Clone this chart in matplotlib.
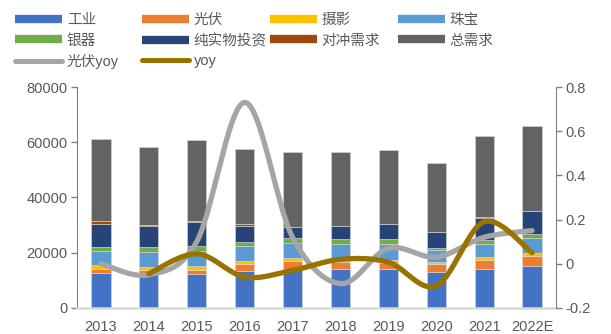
import matplotlib
matplotlib.use("Agg")
import matplotlib.pyplot as plt
from matplotlib.lines import Line2D
import numpy as np

plt.rcParams['font.family'] = ['Liberation Sans', 'Noto Sans CJK SC', 'DejaVu Sans']

years = ['2013', '2014', '2015', '2016', '2017', '2018', '2019', '2020', '2021', '2022E']

# silver demand by use (tonnes)
industrial = [12730, 12500, 12360, 13350, 13700, 14260, 14010, 13030, 14260, 15200]
pv = [1330, 1100, 1340, 2700, 3200, 2390, 2420, 2790, 3260, 3620]
photography = [1330, 1300, 1450, 1100, 1200, 450, 1090, 830, 940, 1090]
jewelry = [5340, 5460, 5580, 5350, 5480, 5960, 5790, 4490, 4850, 5570]
silverware = [1210, 1580, 1690, 1450, 1580, 2060, 1810, 730, 1200, 1450]
bar_coin = [8480, 7880, 8730, 5850, 4220, 4560, 5180, 5640, 8070, 8070]
hedging = [970, 100, 200, 450, 100, 150, 150, 0, 360, 150]
total = [29680, 28360, 29470, 27440, 26990, 26770, 26630, 24980, 29320, 30630]

# growth rates (right axis)
pv_yoy = [0.0, -0.05, 0.10, 0.73, 0.12, -0.09, 0.07, 0.03, 0.12, 0.15]
demand_yoy = [np.nan, -0.045, 0.045, -0.06, -0.03, 0.02, 0.007, -0.10, 0.19, 0.05]

series = [
    ('工业', industrial, '#4472C4'),
    ('光伏', pv, '#ED7D31'),
    ('摄影', photography, '#FFC000'),
    ('珠宝', jewelry, '#5B9BD5'),
    ('银器', silverware, '#70AD47'),
    ('纯实物投资', bar_coin, '#264478'),
    ('对冲需求', hedging, '#9E480E'),
    ('总需求', total, '#636363'),
]


def smooth_curve(xs, ys, steps=40):
    # Bezier segments through every point, like a spreadsheet "smoothed line"
    pts = np.column_stack([xs, ys]).astype(float)
    out = []
    n = len(pts)
    for i in range(n - 1):
        p0 = pts[i - 1] if i > 0 else pts[i]
        p1 = pts[i]
        p2 = pts[i + 1]
        p3 = pts[i + 2] if i + 2 < n else pts[i + 1]
        c1 = p1 + (p2 - p0) / 6
        c2 = p2 - (p3 - p1) / 6
        t = np.linspace(0, 1, steps)[:, None]
        seg = ((1 - t) ** 3) * p1 + 3 * ((1 - t) ** 2) * t * c1 + 3 * (1 - t) * t ** 2 * c2 + t ** 3 * p2
        out.append(seg if i == 0 else seg[1:])
    out = np.vstack(out)
    return out[:, 0], out[:, 1]


fig = plt.figure(figsize=(6.11, 3.34), dpi=100)
ax = fig.add_axes([0.126, 0.078, 0.784, 0.6615])

x = np.arange(len(years))
bottom = np.zeros(len(years))
for name, vals, color in series:
    ax.bar(x, vals, width=0.4, bottom=bottom, color=color, edgecolor='#d9d9d9',
           linewidth=0.4, zorder=2)
    bottom = bottom + np.array(vals)

ax.set_xlim(-0.5, len(years) - 0.5)
ax.set_ylim(0, 80000)
ax.set_yticks(range(0, 80001, 20000))
ax.set_xticks(x)
ax.set_xticklabels(years)
ax.tick_params(axis='x', length=0, pad=9, labelsize=10.5, colors='#595959')
ax.tick_params(axis='y', length=4, width=1, color='#808080', labelsize=10.5,
               labelcolor='#595959', pad=3)
for s in ['top', 'right']:
    ax.spines[s].set_visible(False)
ax.spines['left'].set_color('#808080')
ax.spines['bottom'].set_color('#d9d9d9')
ax.spines['bottom'].set_linewidth(1.8)

ax2 = ax.twinx()
ax2.set_ylim(-0.2, 0.8)
ax2.set_yticks([-0.2, 0, 0.2, 0.4, 0.6, 0.8])
ax2.set_yticklabels(['-0.2', '0', '0.2', '0.4', '0.6', '0.8'])
ax2.tick_params(axis='y', length=4, width=1, color='#808080', labelsize=10.5,
                labelcolor='#595959', pad=3)
for s in ['top', 'left', 'bottom']:
    ax2.spines[s].set_visible(False)
ax2.spines['right'].set_color('#808080')

gx, gy = smooth_curve(x, pv_yoy)
ax2.plot(gx, gy, color='#A5A5A5', lw=3.8, solid_capstyle='round', zorder=3)
valid = ~np.isnan(np.array(demand_yoy))
yx, yy = smooth_curve(x[valid], np.array(demand_yoy)[valid])
ax2.plot(yx, yy, color='#997300', lw=3.8, solid_capstyle='round', zorder=4)

# legend, laid out column by column
bar_handle = lambda c: Line2D([], [], color=c, lw=6, solid_capstyle='butt')
line_handle = lambda c: Line2D([], [], color=c, lw=3.6, solid_capstyle='round')
columns = [
    [(bar_handle('#4472C4'), '工业'), (bar_handle('#70AD47'), '银器'), (line_handle('#A5A5A5'), '光伏yoy')],
    [(bar_handle('#ED7D31'), '光伏'), (bar_handle('#264478'), '纯实物投资'), (line_handle('#997300'), 'yoy')],
    [(bar_handle('#FFC000'), '摄影'), (bar_handle('#9E480E'), '对冲需求')],
    [(bar_handle('#5B9BD5'), '珠宝'), (bar_handle('#636363'), '总需求')],
]
col_x = [15, 142, 270, 398]
for cx, col in zip(col_x, columns):
    fig.legend([h for h, _ in col], [t for _, t in col], loc='upper left',
               bbox_to_anchor=(cx / 611, 1 - 13 / 334), frameon=False,
               fontsize=10.5, handlelength=3.2, handletextpad=0.35,
               labelspacing=0.45, borderpad=0, borderaxespad=0,
               labelcolor='#595959')

fig.savefig('out.png', dpi=100)
